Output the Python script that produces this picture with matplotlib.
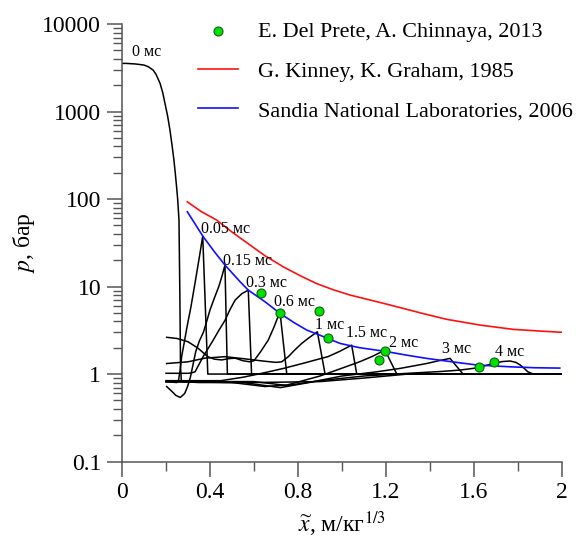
import numpy as np
import matplotlib
matplotlib.use("Agg")
import matplotlib.pyplot as plt
import matplotlib.ticker as tkr

plt.rcParams['font.family'] = ['Liberation Serif', 'DejaVu Serif']
plt.rcParams['mathtext.fontset'] = 'stix'

# pressure profiles, x in m/kg^(1/3), p in bar
x_0 = [0.0, 0.02, 0.06, 0.10, 0.12, 0.142, 0.155, 0.173, 0.185, 0.195, 0.207, 0.218, 0.227, 0.236, 0.242,
       0.248, 0.253, 0.259, 0.263, 0.266, 0.27, 0.35, 0.6, 0.9, 1.1, 1.3, 2.0]
p_0 = [3550, 3550, 3500, 3400, 3250, 2970, 2650, 2100, 1650, 1250, 900, 615, 420, 280, 200,
       139, 100, 58, 8, 1.2, 0.82, 0.80, 0.80, 0.82, 0.9, 1.0, 1.0]
x_005 = [0.2, 0.25, 0.257, 0.264, 0.271, 0.283, 0.295, 0.313, 0.332, 0.352, 0.367, 0.39, 2.0]
p_005 = [0.82, 0.8, 0.85, 1.1, 1.58, 2.3, 3.4, 5.8, 11, 22, 37.8, 1.0, 1.0]
x_015 = [0.203, 0.225, 0.245, 0.265, 0.285, 0.298, 0.31, 0.322, 0.335, 0.352, 0.37, 0.385, 0.4, 0.42, 0.44, 0.455,
         0.468, 0.479, 2.0]
p_015 = [0.72, 0.64, 0.57, 0.54, 0.6, 0.72, 0.9, 1.25, 1.8, 2.4, 3.0, 4.0, 5.4, 7.4, 10, 13.3,
         17.6, 1.0, 1.0]
x_03 = [0.2, 0.3, 0.315, 0.332, 0.37, 0.415, 0.44, 0.468, 0.49, 0.514, 0.545, 0.574, 0.589, 2.0]
p_03 = [1.02, 1.02, 1.03, 1.06, 1.6, 2.45, 3.15, 4.1, 5.4, 7.0, 8.3, 9.1, 1.0, 1.0]
x_06 = [0.203, 0.25, 0.30, 0.345, 0.39, 0.42, 0.453, 0.485, 0.514, 0.55, 0.58, 0.6, 0.63, 0.665, 0.69, 0.718,
        0.749, 2.0]
p_06 = [2.63, 2.55, 2.34, 1.98, 1.58, 1.48, 1.45, 1.5, 1.52, 1.42, 1.38, 1.42, 1.8, 2.45, 3.4, 5.15,
        1.0, 1.0]
x_1 = [0.203, 0.3, 0.377, 0.468, 0.55, 0.65, 0.7, 0.726, 0.756, 0.785, 0.817, 0.85, 0.888, 0.923, 2.0]
p_1 = [1.32, 1.38, 1.52, 1.58, 1.5, 1.4, 1.36, 1.38, 1.58, 1.88, 2.24, 2.6, 3.04, 1.0, 1.0]
x_15 = [0.2, 0.45, 0.55, 0.62, 0.68, 0.74, 0.83, 0.88, 0.936, 0.99, 1.044, 1.067, 2.0]
p_15 = [0.84, 0.84, 0.92, 1.0, 1.08, 1.17, 1.34, 1.45, 1.58, 1.82, 2.14, 1.0, 1.0]
x_2 = [0.2, 0.5, 0.65, 0.75, 0.83, 0.9, 0.98, 1.08, 1.14, 1.195, 1.249, 2.0]
p_2 = [0.82, 0.8, 0.72, 0.75, 0.85, 0.95, 1.12, 1.38, 1.6, 1.88, 1.0, 1.0]
x_3 = [0.2, 0.55, 0.72, 0.85, 1.0, 1.157, 1.264, 1.385, 1.44, 1.491, 1.55, 2.0]
p_3 = [0.82, 0.8, 0.7, 0.8, 0.95, 1.06, 1.16, 1.32, 1.42, 1.51, 1.0, 1.0]
x_4 = [0.2, 0.6, 0.75, 0.9, 1.1, 1.3, 1.45, 1.536, 1.618, 1.686, 1.73, 1.764, 1.79, 1.81, 1.83, 1.845, 1.87, 2.0]
p_4 = [0.82, 0.82, 0.74, 0.84, 0.95, 1.02, 1.07, 1.11, 1.18, 1.32, 1.39, 1.41, 1.36, 1.27, 1.15, 1.06, 1.0, 1.0]

profiles = [(x_0, p_0), (x_005, p_005), (x_015, p_015), (x_03, p_03), (x_06, p_06),
            (x_1, p_1), (x_15, p_15), (x_2, p_2), (x_3, p_3), (x_4, p_4)]

# time labels and where they sit
time_labels = ['0 мс', '0.05 мс', '0.15 мс', '0.3 мс', '0.6 мс', '1 мс', '1.5 мс', '2 мс', '3 мс', '4 мс']
label_x = [0.114, 0.36, 0.46, 0.565, 0.69, 0.877, 1.018, 1.214, 1.455, 1.695]
label_p = [4800, 45, 19.6, 11, 6.7, 3.6, 2.94, 2.26, 1.93, 1.78]

# Kinney & Graham
x_kinney = [0.297, 0.36, 0.43, 0.5, 0.582, 0.65, 0.733, 0.81, 0.885, 0.96, 1.036, 1.15, 1.264, 1.37, 1.476,
            1.627, 1.779, 1.9, 2.0]
p_kinney = [93, 72, 57.6, 42, 29.8, 22.5, 16.8, 13.3, 10.8, 9.2, 8.0, 6.8, 5.75, 4.9, 4.22,
            3.63, 3.24, 3.1, 3.0]

# Sandia
x_sandia = [0.297, 0.33, 0.367, 0.42, 0.468, 0.536, 0.574, 0.65, 0.718, 0.78, 0.84, 0.92, 0.991, 1.08, 1.195,
            1.29, 1.385, 1.5, 1.612, 1.764, 1.88, 1.99]
p_sandia = [71.5, 53, 37.8, 25, 17.6, 11.4, 9.1, 6.7, 4.94, 3.9, 3.18, 2.65, 2.24, 2.0, 1.82,
            1.65, 1.51, 1.38, 1.27, 1.21, 1.18, 1.17]

# Del Prete & Chinnaya
x_prete = [0.630, 0.718, 0.897, 0.935, 1.195, 1.168, 1.623, 1.692]
p_prete = [8.37, 4.94, 5.29, 2.60, 1.85, 1.445, 1.21, 1.36]

fig = plt.figure(figsize=(5.76, 5.43), dpi=100)
ax = fig.add_axes([0.2118, 0.150, 0.7639, 0.8057])

for xs, ps in profiles:
    ax.plot(xs, ps, color='black', lw=1.1, zorder=2)

l_prete = ax.scatter(x_prete, p_prete, s=42, color='#00e000', edgecolors='#106010',
                     linewidths=0.8, zorder=5)
l_kin, = ax.plot(x_kinney, p_kinney, color='#ff1010', lw=1.2, zorder=3)
l_san, = ax.plot(x_sandia, p_sandia, color='#1010ff', lw=1.2, zorder=3)

for i, t in enumerate(time_labels):
    ha = 'center' if i == 0 else 'left'
    ax.text(label_x[i], label_p[i], t, fontsize=11.5, ha=ha, va='center', zorder=4)

ax.set_yscale('log')
ax.set_xlim(0, 2)
ax.set_ylim(0.1, 10000)

ax.xaxis.set_major_locator(tkr.MultipleLocator(0.4))
ax.xaxis.set_minor_locator(tkr.MultipleLocator(0.2))
ax.xaxis.set_major_formatter(tkr.FuncFormatter(lambda v, pos: '{:g}'.format(round(v, 2))))
ax.yaxis.set_major_locator(tkr.LogLocator(base=10, numticks=10))
ax.yaxis.set_minor_locator(tkr.LogLocator(base=10, subs=np.arange(2, 10), numticks=20))
ax.yaxis.set_major_formatter(tkr.FuncFormatter(lambda v, pos: '{:g}'.format(v)))
ax.yaxis.set_minor_formatter(tkr.NullFormatter())

for side in ['top', 'right']:
    ax.spines[side].set_visible(False)
for side in ['left', 'bottom']:
    ax.spines[side].set_color('#555555')
    ax.spines[side].set_linewidth(1.1)
ax.tick_params(which='major', length=11, width=1.1, color='#555555', labelsize=17, pad=4)
ax.tick_params(which='minor', length=6.5, width=1.0, color='#555555')

ax.set_xlabel(r'$\widetilde{x}$, м/кг$^{1/3}$', fontsize=17, labelpad=4)
ax.set_ylabel(r'$p$, бар', fontsize=17, labelpad=4)

fig.legend([l_prete, l_kin, l_san],
           ['E. Del Prete, A. Chinnaya, 2013', 'G. Kinney, K. Graham, 1985',
            'Sandia National Laboratories, 2006'],
           loc='upper left', bbox_to_anchor=(0.336, 0.968), frameon=False,
           fontsize=15.9, handlelength=1.8, handletextpad=0.9, labelspacing=0.86,
           borderaxespad=0.0, borderpad=0.2)

fig.savefig('out.png', dpi=100)
